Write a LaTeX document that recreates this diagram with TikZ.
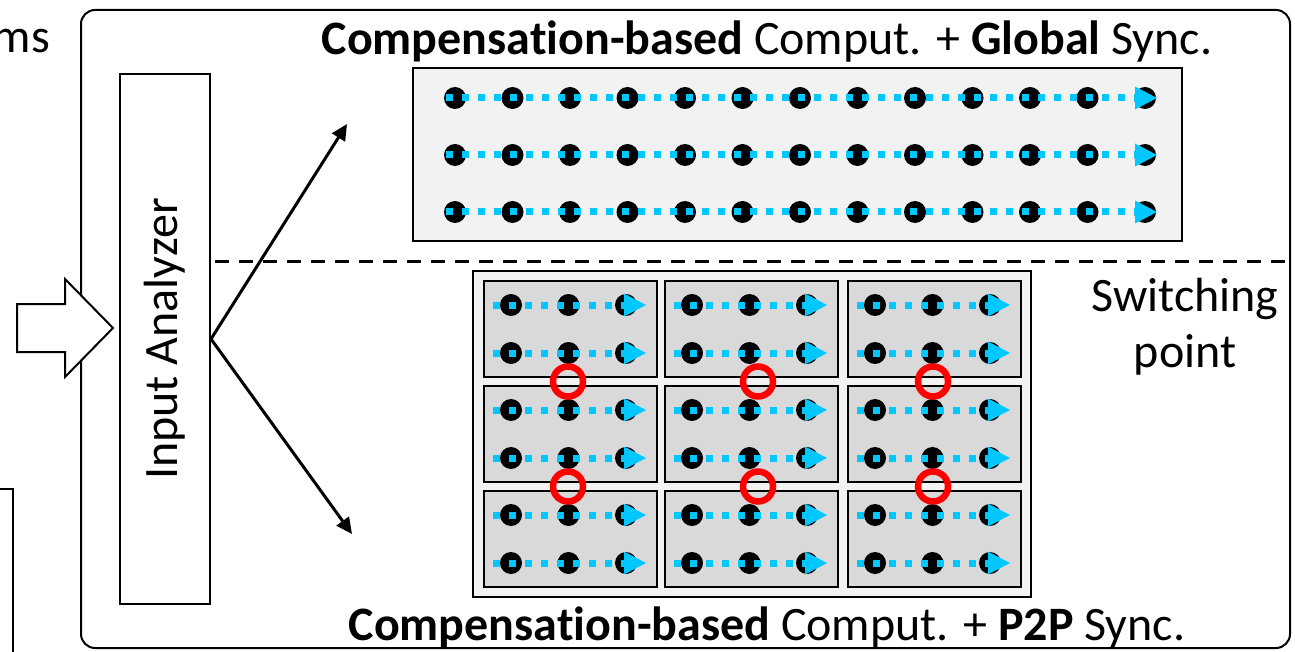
\documentclass[tikz,border=0pt]{standalone}
\usepackage{fontspec}
\setmainfont[Ligatures=CommonOff]{Carlito}
\usetikzlibrary{arrows.meta,positioning}
\definecolor{syncblue}{RGB}{0,200,255}
\definecolor{panelgray}{RGB}{242,242,242}
\definecolor{tilegray}{RGB}{217,217,217}

\begin{document}
\begin{tikzpicture}[x=1pt,y=-1pt,
    every node/.style={font=\fontsize{48}{56}\selectfont, inner sep=0pt},
    box/.style={draw, line width=2pt},
    panel/.style={draw, line width=2.5pt, fill=panelgray},
    tile/.style={draw, line width=2.5pt, fill=tilegray},
    flow/.style={syncblue, line width=7pt, dash pattern=on 7pt off 9pt,
      -{Triangle[length=22pt,width=23pt,line width=0pt]}},
    branch/.style={line width=3pt, -{Triangle[length=16pt,width=15pt]}},
    ring/.style={red, line width=6.5pt}]
  \useasboundingbox (0,0) rectangle (1295,652);

  % frame and left pieces
  \draw[box, rounded corners=14pt] (81,10) rectangle (1290,648);
  \node (ms) [anchor=base east] at (50,53) {ms};
  \draw[box] (0,489) -- (13,489) -- (13,652);
  \draw[box, fill=white] (17,304) -- (65,304) -- (65,279) -- (113,328)
    -- (65,377) -- (65,352) -- (17,352) -- cycle;

  \node (ia) [box, rotate=90, minimum width=530pt, minimum height=90pt]
    at (165,339) {Input Analyzer};
  \coordinate (fork) at (ia.south);
  \coordinate (up) at (347,124);
  \coordinate (down) at (352,534);
  \draw[branch] (fork) -- (up);
  \draw[branch] (fork) -- (down);

  \draw[line width=3pt, dash pattern=on 14pt off 10pt] (215,262) -- (1295,262);

  % global sync
  \node (gtitle) [anchor=base] at (767,55)
    {\textbf{Compensation-based} Comput. + \textbf{Global} Sync.};
  \draw[panel] (413,68) rectangle (1182,241);
  \foreach \y in {98,155,212} {
    \foreach \i in {0,...,12}
      \fill (455+57.5*\i,\y) circle (11);
    \draw[flow] (446,\y) -- (1157,\y);
  }

  % p2p sync
  \draw[panel] (473,271) rectangle (1031,597);
  \foreach \cx in {484,665,848}
    \foreach \cy in {281,386,491} {
      \draw[tile] (\cx,\cy) rectangle ++(173,96);
      \foreach \ry in {24,72} {
        \foreach \dx in {27,84.5,142}
          \fill (\cx+\dx,\cy+\ry) circle (11);
        \draw[flow] (\cx+9,\cy+\ry) -- (\cx+162,\cy+\ry);
      }
    }
  \foreach \rx in {568,758,933}
    \foreach \ry in {381.5,486.5}
      \draw[ring] (\rx,\ry) circle (15);

  \node (ptitle) [anchor=base] at (767,640)
    {\textbf{Compensation-based} Comput. + \textbf{P2P} Sync.};
  \node (switch) [align=center] at (1185,327) {Switching\\point};
\end{tikzpicture}
\end{document}
